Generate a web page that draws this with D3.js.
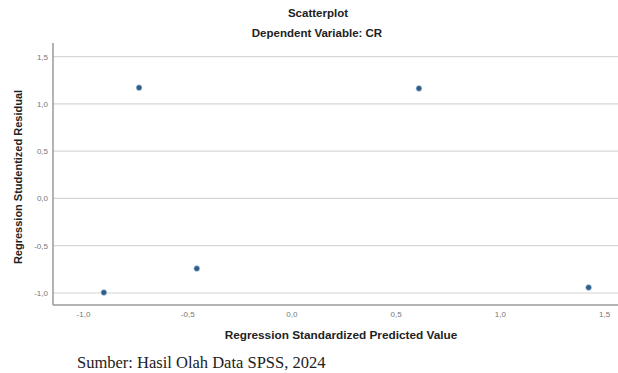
<!DOCTYPE html>
<html>
<head>
<meta charset="utf-8">
<script src="https://cdn.jsdelivr.net/npm/d3@7"></script>
<style>
body{margin:0;background:#fff}
svg{display:block}
</style>
</head>
<body>
<svg></svg>
<script>
// predicted (x) vs studentized residual (y)
var predicted=[-0.90,-0.454,-0.731,0.612,1.426]
var residual=[-0.995,-0.742,1.171,1.163,-0.942]
var xTicks=[-1.0,-0.5,0.0,0.5,1.0,1.5]
var yTicks=[-1.0,-0.5,0.0,0.5,1.0,1.5]

var data=predicted.map((p,i)=>({x:p,y:residual[i]}))

var svg=d3.select("svg").attr("width",618).attr("height",373)

var plotLeft=53,plotRight=618,plotTop=43,plotBottom=305

var x=d3.scaleLinear().domain([-1.144,1.567]).range([plotLeft,plotRight])
var y=d3.scaleLinear().domain([-1.127,1.643]).range([plotBottom,plotTop])

var fmt=d=>d3.format(".1f")(d).replace(".",",").replace("−","-")

// grid lines
svg.append("g")
  .selectAll("line")
  .data(yTicks)
  .enter()
  .append("line")
  .attr("x1",plotLeft).attr("x2",plotRight)
  .attr("y1",d=>y(d)).attr("y2",d=>y(d))
  .attr("stroke","#d6d6d6")
  .attr("stroke-width",1.2)

// axes
var yAxis=svg.append("g")
  .attr("transform","translate("+plotLeft+",0)")
  .call(d3.axisLeft(y).tickValues(yTicks).tickFormat(fmt).tickSize(0).tickPadding(5))
yAxis.select(".domain").attr("stroke","#8a8a8a").attr("stroke-width",1.3)
  .attr("d","M0,"+plotTop+"V"+plotBottom)

var xAxis=svg.append("g")
  .attr("transform","translate(0,"+plotBottom+")")
  .call(d3.axisBottom(x).tickValues(xTicks).tickFormat(fmt).tickSize(0).tickPadding(6))
xAxis.select(".domain").attr("stroke","#9a9a9a").attr("stroke-width",1.6)
  .attr("d","M"+plotLeft+",0H"+plotRight)

svg.selectAll(".tick text")
  .attr("fill","#777")
  .style("font-family","Liberation Sans, Arial, sans-serif")
  .style("font-size","8px")

// points
svg.append("g")
  .selectAll("circle")
  .data(data)
  .enter()
  .append("circle")
  .attr("cx",d=>x(d.x))
  .attr("cy",d=>y(d.y))
  .attr("r",3)
  .attr("fill","#2e5f8a")
  .attr("stroke","#d3e3f1")
  .attr("stroke-width",0.7)

// titles
var sans="Liberation Sans, Arial, sans-serif"
svg.append("text")
  .text("Scatterplot")
  .attr("x",318).attr("y",17)
  .attr("text-anchor","middle")
  .style("font-family",sans)
  .style("font-weight","bold")
  .style("font-size","11.5px")
  .attr("fill","#222")

svg.append("text")
  .text("Dependent Variable: CR")
  .attr("x",317).attr("y",37)
  .attr("text-anchor","middle")
  .style("font-family",sans)
  .style("font-weight","bold")
  .style("font-size","11.5px")
  .attr("fill","#222")

svg.append("text")
  .text("Regression Standardized Predicted Value")
  .attr("x",341).attr("y",339)
  .attr("text-anchor","middle")
  .style("font-family",sans)
  .style("font-weight","bold")
  .style("font-size","11.8px")
  .attr("fill","#222")

svg.append("text")
  .text("Regression Studentized Residual")
  .attr("transform","translate(22,177) rotate(-90)")
  .attr("text-anchor","middle")
  .style("font-family",sans)
  .style("font-weight","bold")
  .style("font-size","11px")
  .attr("fill","#222")

svg.append("text")
  .text("Sumber: Hasil Olah Data SPSS, 2024")
  .attr("x",77).attr("y",368)
  .style("font-family","Liberation Serif, Times New Roman, serif")
  .style("font-size","16.5px")
  .attr("fill","#222")
</script>
</body>
</html>
